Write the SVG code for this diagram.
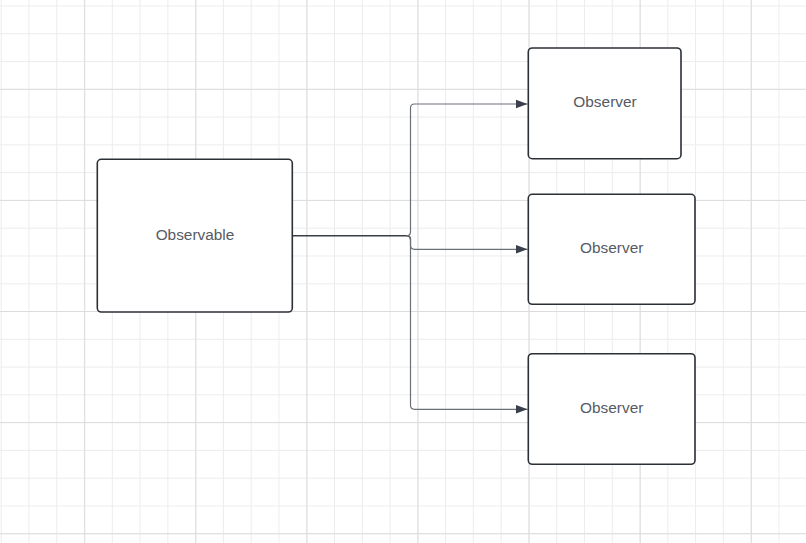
<svg xmlns="http://www.w3.org/2000/svg" width="806" height="543" viewBox="0 0 806 543">
<defs>
<pattern id="minor" x="0.7" y="5.5" width="27.775" height="27.775" patternUnits="userSpaceOnUse">
<path d="M0.5 0V27.775M0 0.5H27.775" fill="none" stroke="#ececec" stroke-width="1"/>
</pattern>
<pattern id="major" x="84.2" y="88.8" width="111.1" height="111.1" patternUnits="userSpaceOnUse">
<path d="M0.5 0V111.1M0 0.5H111.1" fill="none" stroke="#dcdcdc" stroke-width="1"/>
</pattern>
<marker id="arrow" viewBox="0 0 12 10" refX="12" refY="5" markerWidth="12" markerHeight="10" markerUnits="userSpaceOnUse" orient="auto">
<path d="M0 0.5L12 5L0 9.5Z" fill="#3a414b"/>
</marker>
<style>
.box{fill:#ffffff;stroke:#2b2f36;stroke-width:1.6}
.lbl{font-family:"Liberation Sans",Arial,sans-serif;font-size:15.4px;fill:#555a63;text-anchor:middle}
.wire{fill:none;stroke:#6b7078;stroke-width:1.2}
.main{fill:none;stroke:#3a3f46;stroke-width:1.5}
</style>
</defs>
<rect width="806" height="543" fill="#ffffff"/>
<rect width="806" height="543" fill="url(#minor)"/>
<rect width="806" height="543" fill="url(#major)"/>
<g id="connectors">
<path class="main" d="M292.3 235.7H406.5Q410.5 235.7 410.5 239.7"/>
<path class="wire" d="M406.5 235.7Q410.5 235.7 410.5 231.7V108Q410.5 104 414.5 104H527.5" marker-end="url(#arrow)"/>
<path class="wire" d="M406.5 235.7Q410.5 235.7 410.5 239.7V245.3Q410.5 249.3 414.5 249.3H527.5" marker-end="url(#arrow)"/>
<path class="wire" d="M410.5 239.7V405.3Q410.5 409.3 414.5 409.3H527.5" marker-end="url(#arrow)"/>
</g>
<g id="observable">
<rect class="box" x="97.3" y="159.3" width="195" height="152.7" rx="4"/>
<text class="lbl" x="195" y="240">Observable</text>
</g>
<g id="observer1">
<rect class="box" x="528.3" y="48" width="152.7" height="110.7" rx="4"/>
<text class="lbl" x="605" y="107">Observer</text>
</g>
<g id="observer2">
<rect class="box" x="528.3" y="194.3" width="166.7" height="110" rx="4"/>
<text class="lbl" x="611.7" y="253">Observer</text>
</g>
<g id="observer3">
<rect class="box" x="528.3" y="353.7" width="166.7" height="110.6" rx="4"/>
<text class="lbl" x="611.7" y="413">Observer</text>
</g>
</svg>
